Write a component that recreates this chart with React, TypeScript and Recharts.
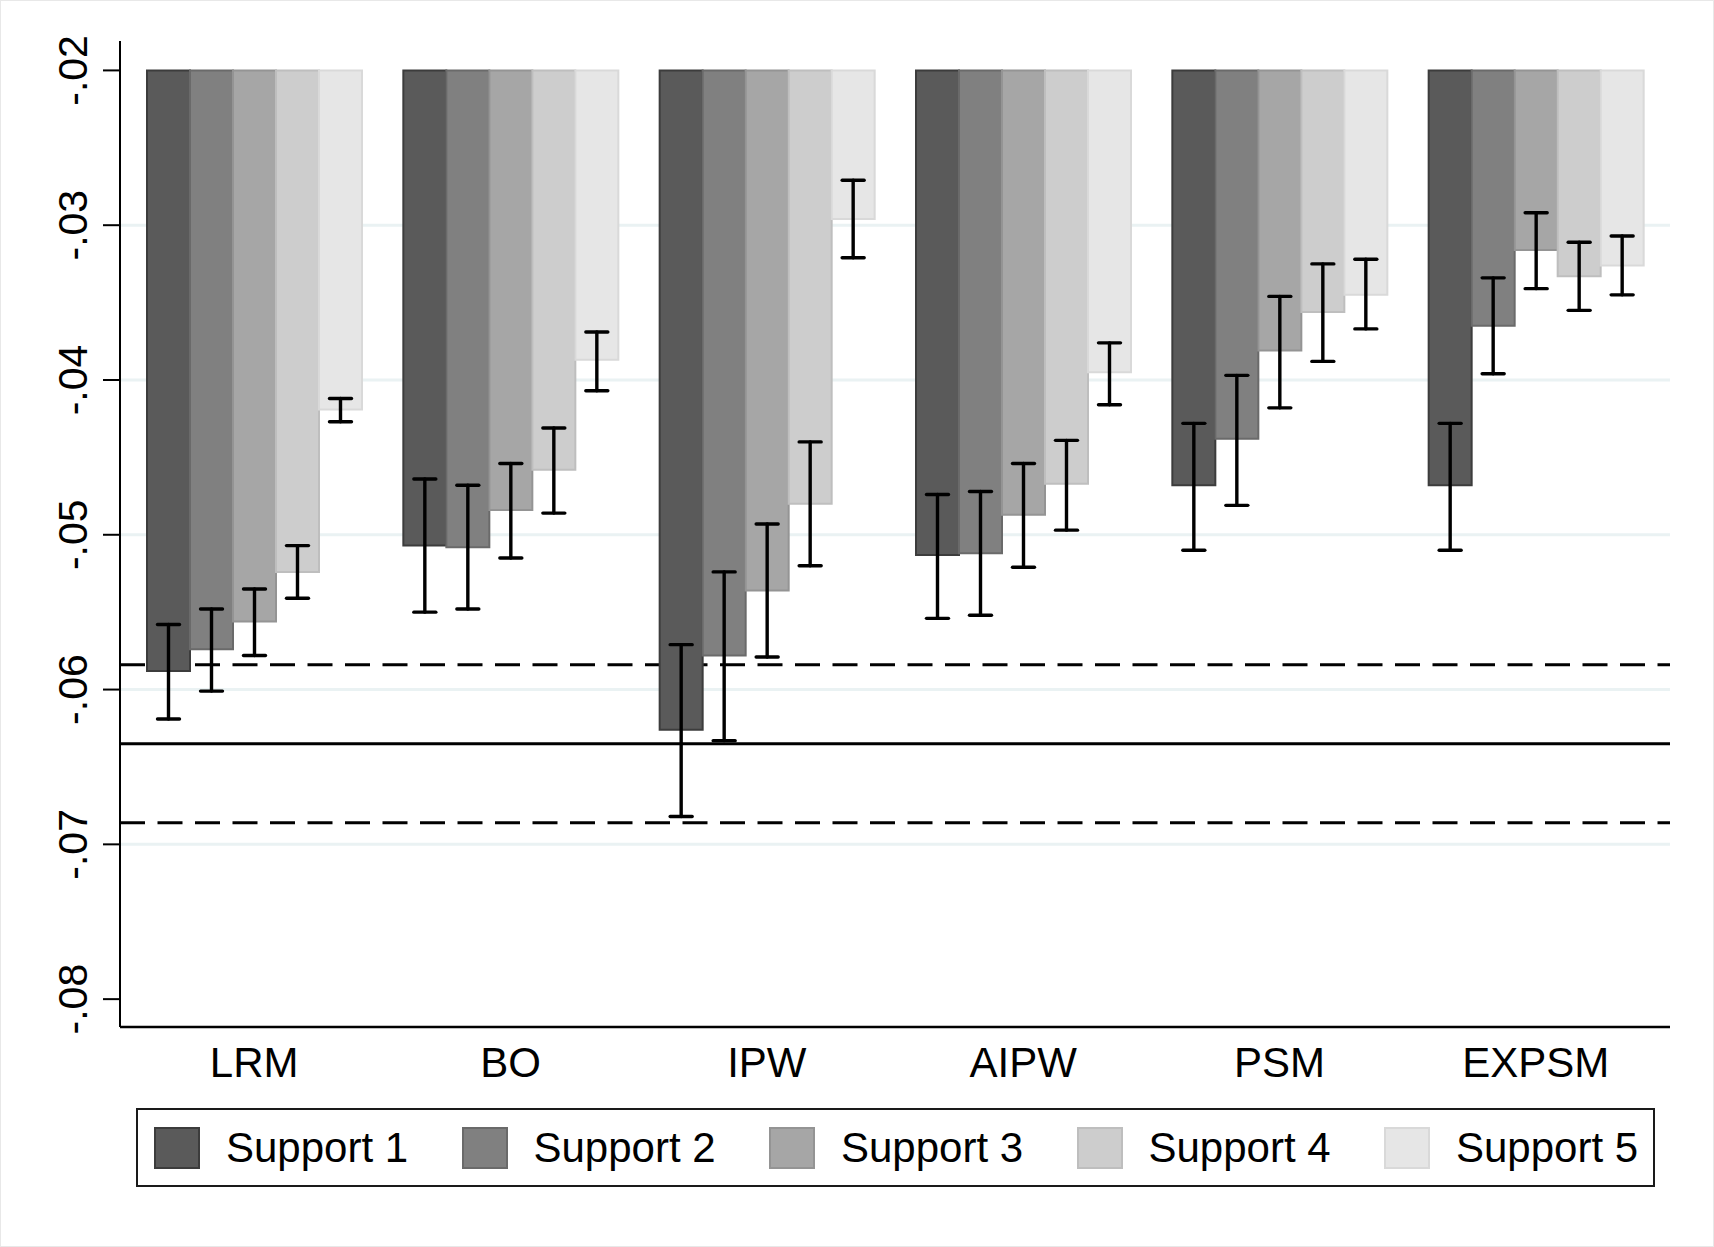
import React from 'react';
import { BarChart, Bar, XAxis, YAxis, CartesianGrid, ErrorBar, Legend } from 'recharts';

// estimators on the x axis
const METHODS = ['LRM', 'BO', 'IPW', 'AIPW', 'PSM', 'EXPSM'];

// point estimates per support level
const S1_EST = [-0.0588, -0.0507, -0.0626, -0.0513, -0.0468, -0.0468];
const S2_EST = [-0.0574, -0.0508, -0.0578, -0.0512, -0.0438, -0.0365];
const S3_EST = [-0.0556, -0.0484, -0.0536, -0.0487, -0.0381, -0.0316];
const S4_EST = [-0.0524, -0.0458, -0.048, -0.0467, -0.0356, -0.0333];
const S5_EST = [-0.0419, -0.0387, -0.0296, -0.0395, -0.0345, -0.0326];

// confidence interval bounds
const S1_LO = [-0.0619, -0.055, -0.0682, -0.0554, -0.051, -0.051];
const S1_HI = [-0.0558, -0.0464, -0.0571, -0.0474, -0.0428, -0.0428];
const S2_LO = [-0.0601, -0.0548, -0.0633, -0.0552, -0.0481, -0.0396];
const S2_HI = [-0.0548, -0.0468, -0.0524, -0.0472, -0.0397, -0.0334];
const S3_LO = [-0.0578, -0.0515, -0.0579, -0.0521, -0.0418, -0.0341];
const S3_HI = [-0.0535, -0.0454, -0.0493, -0.0454, -0.0346, -0.0292];
const S4_LO = [-0.0541, -0.0486, -0.052, -0.0497, -0.0388, -0.0355];
const S4_HI = [-0.0507, -0.0431, -0.044, -0.0439, -0.0325, -0.0311];
const S5_LO = [-0.0427, -0.0407, -0.0321, -0.0416, -0.0367, -0.0345];
const S5_HI = [-0.0412, -0.0369, -0.0271, -0.0376, -0.0322, -0.0307];

// benchmark estimate and its interval (drawn behind the bars)
const BENCH_EST = [-0.0635];
const BENCH_CI = [-0.0686, -0.0584];

// bars hang from this value
const BAR_BASE = -0.02;

const Y_TICKS = [-0.08, -0.07, -0.06, -0.05, -0.04, -0.03, -0.02];
const Y_TICK_LABELS = ['-.08', '-.07', '-.06', '-.05', '-.04', '-.03', '-.02'];
// inner ticks only get a grid line
const GRID_VALUES = [-0.07, -0.06, -0.05, -0.04, -0.03];

const SERIES_NAMES = ['Support 1', 'Support 2', 'Support 3', 'Support 4', 'Support 5'];
const FILLS = ['#5a5a5a', '#808080', '#a6a6a6', '#cdcdcd', '#e6e6e6'];
const STROKES = ['#3c3c3c', '#6a6a6a', '#949494', '#bebebe', '#d9d9d9'];

const ESTS = [S1_EST, S2_EST, S3_EST, S4_EST, S5_EST];
const LOS = [S1_LO, S2_LO, S3_LO, S4_LO, S5_LO];
const HIS = [S1_HI, S2_HI, S3_HI, S4_HI, S5_HI];

const data = METHODS.map((m, i) => {
  const row: any = { name: m };
  ESTS.forEach((est, s) => {
    row[`s${s}`] = [BAR_BASE, est[i]];
    row[`e${s}`] = [est[i] - LOS[s][i], HIS[s][i] - est[i]];
  });
  return row;
});

const FONT = '"Liberation Sans", Arial, Helvetica, sans-serif';

const YTick = ({ x, y, payload }: any) => {
  const idx = Y_TICKS.findIndex((t) => Math.abs(t - payload.value) < 1e-9);
  return (
    <text
      x={x}
      y={y}
      transform={`rotate(-90 ${x} ${y})`}
      textAnchor="middle"
      fontSize={41}
      fontFamily={FONT}
      fill="#000"
    >
      {idx >= 0 ? Y_TICK_LABELS[idx] : payload.value}
    </text>
  );
};

const XTick = ({ x, y, payload }: any) => (
  <text x={x} y={y + 50} textAnchor="middle" fontSize={42} fontFamily={FONT} fill="#000">
    {payload.value}
  </text>
);

const LegendBox = () => (
  <div
    style={{
      position: 'relative',
      boxSizing: 'border-box',
      width: 1519,
      height: 79,
      border: '2px solid #1a1a1a',
      background: '#fff',
      fontFamily: FONT,
    }}
  >
    {SERIES_NAMES.map((name, i) => (
      <div
        key={name}
        style={{
          position: 'absolute',
          left: 16 + i * 307.5,
          top: 0,
          height: 75,
          display: 'flex',
          alignItems: 'center',
        }}
      >
        <div
          style={{
            boxSizing: 'border-box',
            width: 46,
            height: 42,
            background: FILLS[i],
            border: `2px solid ${STROKES[i]}`,
          }}
        />
        <span style={{ marginLeft: 26, fontSize: 42, lineHeight: 1, color: '#000' }}>{name}</span>
      </div>
    ))}
  </div>
);

export default function App() {
  return (
    <div
      style={{
        position: 'absolute',
        left: 0,
        top: 0,
        width: 1714,
        height: 1247,
        background: '#fff',
        boxSizing: 'border-box',
        border: '1px solid #e8e8e8',
      }}
    >
      <style>{'.recharts-errorBar line { stroke-width: 3.4px; stroke: #000; }'}</style>
      <BarChart
        width={1712}
        height={1245}
        data={data}
        margin={{ top: 40, right: 43, left: 0, bottom: 139 }}
        barCategoryGap={21}
        barGap={0}
      >
        <CartesianGrid
          vertical={false}
          horizontalValues={GRID_VALUES}
          stroke="#eaf2f3"
          strokeWidth={3}
        />
        <CartesianGrid
          vertical={false}
          horizontalValues={BENCH_CI}
          stroke="#000"
          strokeWidth={3}
          strokeDasharray="25 12.5"
        />
        <CartesianGrid vertical={false} horizontalValues={BENCH_EST} stroke="#000" strokeWidth={3} />
        <XAxis
          dataKey="name"
          height={80}
          padding={{ left: 6, right: 6 }}
          tickLine={false}
          tickSize={0}
          tickMargin={0}
          tick={<XTick />}
          axisLine={{ stroke: '#000', strokeWidth: 2.5 }}
        />
        <YAxis
          width={119}
          domain={[-0.0818, -0.0181]}
          allowDataOverflow
          ticks={Y_TICKS}
          tickSize={17}
          tickMargin={16}
          tick={<YTick />}
          axisLine={{ stroke: '#000', strokeWidth: 2 }}
          tickLine={{ stroke: '#000', strokeWidth: 2 }}
        />
        {SERIES_NAMES.map((name, s) => (
          <Bar
            key={name}
            name={name}
            dataKey={`s${s}`}
            fill={FILLS[s]}
            stroke={STROKES[s]}
            strokeWidth={2}
            isAnimationActive={false}
          >
            <ErrorBar
              dataKey={`e${s}`}
              width={11}
              stroke="#000"
              strokeWidth={3.4}
              strokeLinecap="round"
              direction="y"
            />
          </Bar>
        ))}
        <Legend
          layout="horizontal"
          verticalAlign="middle"
          align="center"
          content={<LegendBox />}
          wrapperStyle={{ left: 135, top: 1107, width: 1519, height: 79 }}
        />
      </BarChart>
    </div>
  );
}
